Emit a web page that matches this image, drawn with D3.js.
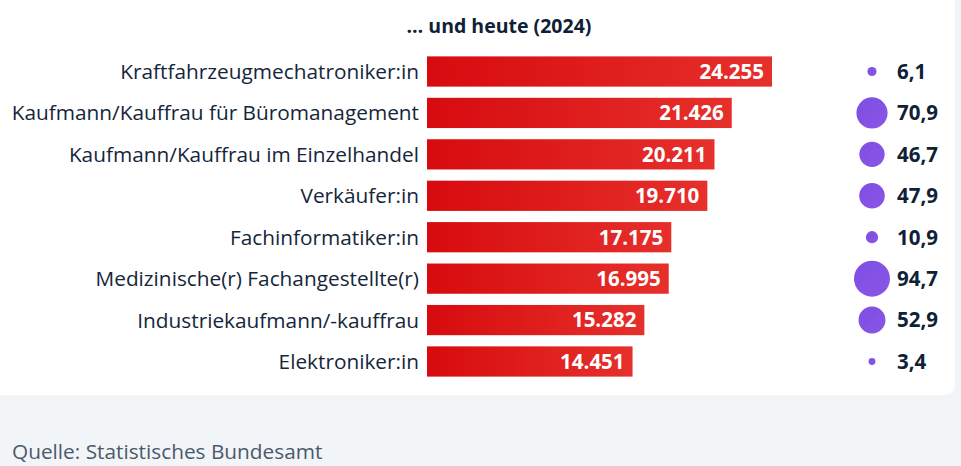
<!DOCTYPE html><html><head><meta charset="utf-8">
<script src="https://cdn.jsdelivr.net/npm/d3@7"></script>
<style>body{margin:0;background:#f2f5f8;font-family:"Open Sans",sans-serif}</style></head><body>
<svg id="c" width="961" height="466"></svg>
<script>
const categories=["Kraftfahrzeugmechatroniker:in","Kaufmann/Kauffrau für Büromanagement","Kaufmann/Kauffrau im Einzelhandel","Verkäufer:in","Fachinformatiker:in","Medizinische(r) Fachangestellte(r)","Industriekaufmann/-kauffrau","Elektroniker:in"];
const trainees=[24255,21426,20211,19710,17175,16995,15282,14451];
const femaleShare=[6.1,70.9,46.7,47.9,10.9,94.7,52.9,3.4];
const svg=d3.select("#c");
const defs=svg.append("defs");
const g1=defs.append("linearGradient").attr("id","rg");
g1.append("stop").attr("offset","0").attr("stop-color","#d70b0f");
g1.append("stop").attr("offset","1").attr("stop-color","#e6302b");
const g2=defs.append("linearGradient").attr("id","pg").attr("x1",0).attr("y1",0).attr("x2",1).attr("y2",1);
g2.append("stop").attr("offset","0").attr("stop-color","#7d4fe3");
g2.append("stop").attr("offset","1").attr("stop-color","#8a55e6");
svg.append("rect").attr("x",-10).attr("y",-10).attr("width",965).attr("height",405).attr("rx",10).attr("fill","#fff");
svg.append("text").attr("x",499).attr("y",33).attr("text-anchor","middle").attr("font-weight",700).attr("font-size",19.5).attr("fill","#0f2136").text("… und heute (2024)");
const x=d3.scaleLinear().domain([0,24255]).range([427,772]);
const y=d3.scaleBand().domain(categories).range([51,382]).paddingInner(0.27).paddingOuter(0.13);
const r=d3.scaleSqrt().domain([0,94.7]).range([0,18]);
const fmt=d3.formatLocale({decimal:",",thousands:".",grouping:[3]});
const fi=fmt.format(",d"), f1=fmt.format(".1f");
categories.forEach((c,i)=>{
 const yc=y(c)+y.bandwidth()/2;
 svg.append("rect").attr("x",x(0)).attr("y",y(c)).attr("width",x(trainees[i])-x(0)).attr("height",y.bandwidth()).attr("fill","url(#rg)");
 svg.append("text").attr("x",x(trainees[i])-8).attr("y",yc).attr("dy","0.36em").attr("text-anchor","end").attr("fill","#fff").attr("font-weight",700).attr("font-size",20.5).text(fi(trainees[i]));
 svg.append("text").attr("x",419).attr("y",yc).attr("dy","0.36em").attr("text-anchor","end").attr("fill","#15263a").attr("font-size",20.8).text(c);
 svg.append("circle").attr("cx",872).attr("cy",yc).attr("r",r(femaleShare[i])).attr("fill","url(#pg)");
 svg.append("text").attr("x",897).attr("y",yc).attr("dy","0.36em").attr("fill","#0f2136").attr("font-weight",700).attr("font-size",20.5).text(f1(femaleShare[i]));
});
svg.append("text").attr("x",12).attr("y",459).attr("fill","#4a5a6a").attr("font-size",20.8).text("Quelle: Statistisches Bundesamt");
</script></body></html>
